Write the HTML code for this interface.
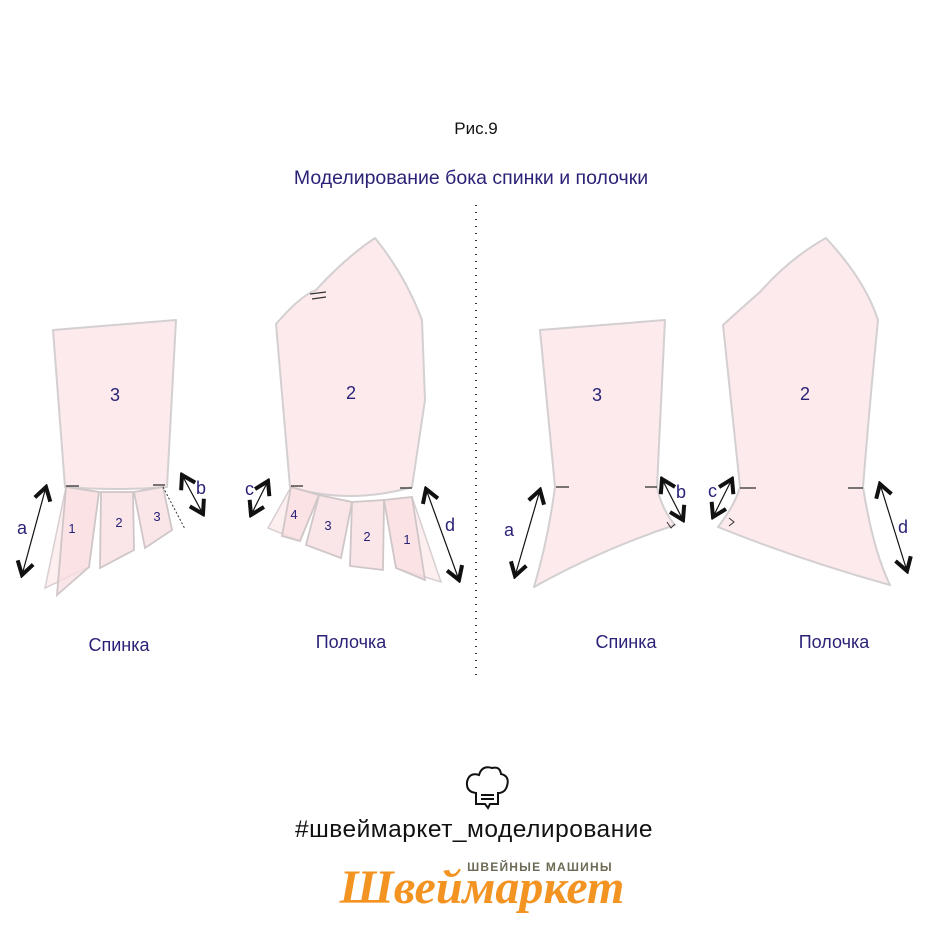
<!DOCTYPE html>
<html><head><meta charset="utf-8"><style>
html,body{margin:0;padding:0;background:#fff;}
svg{display:block;font-family:"Liberation Sans",Arial,sans-serif;}
</style></head><body>
<svg width="947" height="947" viewBox="0 0 947 947">
<defs>
<marker id="ah" viewBox="0 0 20 20" refX="17" refY="10" markerWidth="20" markerHeight="20" markerUnits="userSpaceOnUse" orient="auto-start-reverse">
<polyline points="4,2 17,10 4,18" fill="none" stroke="#111" stroke-width="4"/>
</marker>
</defs>
<text x="476" y="134" font-size="17" text-anchor="middle" fill="#111">Рис.9</text>
<text x="471" y="184" font-size="19.5" text-anchor="middle" fill="#2a2277">Моделирование бока спинки и полочки</text>
<line x1="476" y1="205" x2="476" y2="678" stroke="#333" stroke-width="2" stroke-dasharray="1 6"/>

<g fill="#fceaec" stroke="#d4cfd1" stroke-width="2" stroke-linejoin="round">
<path d="M53,330 L176,320 L167,487 Q116,491 65,487 Z"/>
<path d="M276,324 Q300,296 316,290 Q345,258 375,238 Q405,275 422,320 L425,400 L412,487 Q350,505 290,487 Z"/>
<path d="M540,330 L665,320 L657,487 Q662,510 675,525 Q600,550 534,587 Q548,540 555,487 Z"/>
<path d="M723,325 Q745,305 760,292 Q790,258 826,238 Q865,280 878,320 Q870,400 863,487 Q873,550 890,585 Q800,560 718,527 Q735,505 740,487 Z"/>
</g>
<g fill="#fbe3e6" fill-opacity="0.6" stroke="#d8cfd1" stroke-width="1.5">
<polygon points="66,487 99,492 89,567 45,588"/>
<polygon points="291,487 319,495 300,541 268,528"/>
<polygon points="384,500 412,497 441,582 396,568"/>
</g>
<g fill="#f8dde1" fill-opacity="0.75" stroke="#cfc6c8" stroke-width="1.8">
<polygon points="66,487 99,492 89,567 57,595"/>
<polygon points="101,492 133,492 134,550 100,568"/>
<polygon points="134,492 163,487 172,530 145,548"/>
<polygon points="291,487 319,495 300,541 282,536"/>
<polygon points="319,495 352,502 341,558 306,545"/>
<polygon points="352,502 384,500 383,570 350,566"/>
<polygon points="384,500 412,497 425,580 396,568"/>
</g>
<line x1="163" y1="487" x2="185" y2="529" stroke="#333" stroke-width="1" stroke-dasharray="2 2"/>
<g stroke="#333" stroke-width="1.3">
<line x1="66" y1="486" x2="79" y2="486"/><line x1="153" y1="485" x2="165" y2="485"/>
<line x1="291" y1="486" x2="303" y2="486"/><line x1="400" y1="488" x2="412" y2="488"/>
<line x1="556" y1="487" x2="569" y2="487"/><line x1="645" y1="487" x2="657" y2="487"/>
<line x1="740" y1="488" x2="756" y2="488"/><line x1="848" y1="488" x2="863" y2="488"/>
<line x1="310" y1="294" x2="326" y2="292"/><line x1="312" y1="299" x2="326" y2="297"/>
</g>
<path d="M667,522 L671,528 L675,524" fill="none" stroke="#333" stroke-width="1"/>
<path d="M729,518 L734,522 L729,526" fill="none" stroke="#333" stroke-width="1"/>
<g stroke="#111" stroke-width="1.2" marker-start="url(#ah)" marker-end="url(#ah)">
<line x1="46" y1="487" x2="22" y2="575"/>
<line x1="182" y1="475" x2="203" y2="514"/>
<line x1="268" y1="481" x2="251" y2="515"/>
<line x1="426" y1="489" x2="459" y2="580"/>
<line x1="540" y1="490" x2="515" y2="576"/>
<line x1="662" y1="479" x2="683" y2="520"/>
<line x1="732" y1="479" x2="713" y2="517"/>
<line x1="880" y1="484" x2="907" y2="571"/>
</g>
<g fill="#2a2277" font-size="18">
<text x="17" y="534">a</text><text x="196" y="494">b</text>
<text x="245" y="495">c</text><text x="445" y="531">d</text>
<text x="504" y="536">a</text><text x="676" y="498">b</text>
<text x="708" y="497">c</text><text x="898" y="533">d</text>
<text x="115" y="401" text-anchor="middle">3</text>
<text x="351" y="399" text-anchor="middle">2</text>
<text x="597" y="401" text-anchor="middle">3</text>
<text x="805" y="400" text-anchor="middle">2</text>
</g>
<g fill="#2a2277" font-size="13" text-anchor="middle">
<text x="72" y="533">1</text><text x="119" y="527">2</text><text x="157" y="521">3</text>
<text x="294" y="519">4</text><text x="328" y="530">3</text><text x="367" y="541">2</text><text x="407" y="544">1</text>
</g>
<g fill="#2a2277" font-size="18" text-anchor="middle">
<text x="119" y="651">Спинка</text><text x="351" y="648">Полочка</text>
<text x="626" y="648">Спинка</text><text x="834" y="648">Полочка</text>
</g>
<g fill="none" stroke="#111" stroke-width="2">
<path d="M476,793 Q466,792 467,782 Q469,772 479,775 Q482,765 492,768 Q500,766 501,774 Q510,776 507,786 Q505,793 498,793 L498,804 L490,804 L488,808 L485,804 L476,804 Z"/>
<line x1="481" y1="795" x2="494" y2="795"/><line x1="481" y1="799" x2="494" y2="799"/>
</g>
<text x="474" y="837" font-size="24.5" text-anchor="middle" fill="#111" letter-spacing="0.5">#швеймаркет_моделирование</text>
<text x="540" y="871" font-size="12" font-weight="bold" text-anchor="middle" fill="#6e6a55" letter-spacing="1.2">ШВЕЙНЫЕ МАШИНЫ</text>
<text x="482" y="903" font-size="48" font-weight="bold" font-style="italic" text-anchor="middle" fill="#f39321" font-family="'Liberation Serif',serif">Швеймаркет</text>
</svg>
</body></html>
